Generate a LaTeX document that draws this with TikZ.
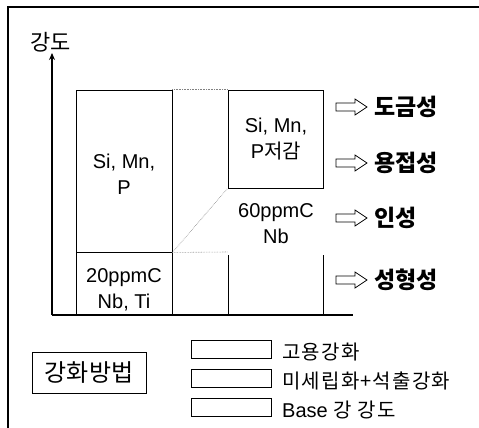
\documentclass[tikz,border=0pt]{standalone}
\usepackage{fontspec}
\setmainfont{Liberation Sans}
\newfontfamily\kr{Noto Sans CJK KR}
\newfontfamily\krleg[LetterSpace=6]{Noto Sans CJK KR}
\usetikzlibrary{arrows.meta}
\tikzset{
  frameline/.style={line width=1.2pt},
  axisline/.style={line width=1.4pt},
  boxline/.style={draw, line width=0.9pt},
  dotline/.style={line width=0.6pt, densely dotted, gray},
  latin/.style={font=\fontsize{20}{26}\selectfont, align=center, inner sep=0pt},
  kbig/.style={font=\kr\fontsize{23}{25}\selectfont\bfseries, anchor=west, inner sep=0pt},
  legtext/.style={font=\krleg\fontsize{20}{22}\selectfont, anchor=west, inner sep=0pt},
  legbar/.style={draw, line width=0.8pt, minimum width=80pt, minimum height=18pt, inner sep=0pt},
  hollowarrow/.pic={\draw[line width=0.8pt] (0,-4) -- (19,-4) -- (19,-8) -- (31,0) -- (19,8) -- (19,4) -- (0,4) -- cycle;}
}
\begin{document}
\begin{tikzpicture}[x=1pt,y=-1pt]
\useasboundingbox (0,0) rectangle (479,428);
% frame
\coordinate (fTL) at (8,7);
\coordinate (fTR) at (479,7);
\coordinate (fBL) at (8,428);
\draw[frameline] (fTR) -- (fTL) -- (fBL);
% axes
\coordinate (origin) at (52,315);
\coordinate (ytop) at (52,53);
\coordinate (xend) at (353,315);
\draw[axisline,-{Stealth[length=7pt,width=6pt]}] (origin) -- (ytop);
\draw[axisline] (origin) -- (xend);
\node[font=\kr\fontsize{22}{24}\selectfont, inner sep=0pt] (ylab) at (51,42) {강도};
% left column
\node[boxline, minimum width=96pt, minimum height=162pt, inner sep=0pt] (lup) at (124,171) {};
\node[boxline, minimum width=96pt, minimum height=63pt, inner sep=0pt] (llow) at (124,283.5) {};
\node[latin] (t1) at (124,174) {Si, Mn,\\P};
\node[latin] (t2) at (124,290) {20ppmC\\Nb, Ti};
% right column
\node[boxline, minimum width=95pt, minimum height=98pt, inner sep=0pt] (rup) at (275.5,139) {};
\node[latin] (t3) at (276,139) {Si, Mn,\\P{\kr 저감}};
\node[latin] (t4) at (276,224) {60ppmC\\Nb};
\coordinate (rl1) at (228,255);
\coordinate (rl2) at (228,315);
\coordinate (rr1) at (323,255);
\coordinate (rr2) at (323,315);
\draw[line width=0.9pt] (rl1) -- (rl2);
\draw[line width=0.9pt] (rr1) -- (rr2);
% dotted guides
\coordinate (dl) at (228,252);
\draw[dotline] (lup.north east) -- (rup.north west);
\draw[dotline] (lup.south east) -- (rup.south west);
\draw[dotline] (lup.south east) -- (dl);
% hollow arrows and properties
\pic at (336,107) {hollowarrow};
\pic at (336,163) {hollowarrow};
\pic at (336,218) {hollowarrow};
\pic at (336,280) {hollowarrow};
\node[kbig] (p1) at (374,107) {도금성};
\node[kbig] (p2) at (374,163) {용접성};
\node[kbig] (p3) at (374,218) {인성};
\node[kbig] (p4) at (374,280) {성형성};
% legend
\node[draw, line width=0.9pt, minimum width=114pt, minimum height=41pt, inner sep=0pt,
      font=\kr\fontsize{24}{26}\selectfont] (method) at (89,372.5) {강화방법};
\node[legbar] (b1) at (231,349.5) {};
\node[legbar] (b2) at (231,378) {};
\node[legbar] (b3) at (231,407) {};
\node[legtext] (l1) at (282,352) {고용강화};
\node[legtext] (l2) at (282,381) {미세립화+석출강화};
\node[legtext] (l3) at (282,410) {{\fontspec{Liberation Sans}Base} 강 강도};
\end{tikzpicture}
\end{document}
